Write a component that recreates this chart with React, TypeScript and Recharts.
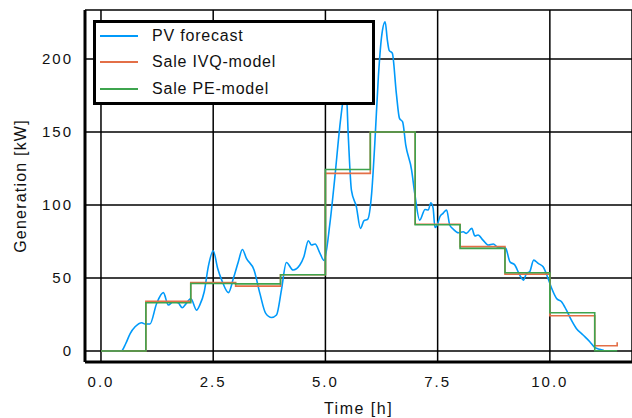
import React from "react";
import {
  LineChart,
  Line,
  XAxis,
  YAxis,
  CartesianGrid,
  Legend,
} from "recharts";

// PV forecast trace (hours, kW)
const PV_HOURS = [
  0, 0.45, 0.55, 0.65, 0.76, 0.91, 0.98, 1.09, 1.24, 1.39, 1.5, 1.61, 1.72, 1.81, 1.91, 2.0,
  2.13, 2.2, 2.3, 2.39, 2.5, 2.6, 2.69, 2.84, 2.95, 3.06, 3.15, 3.24, 3.41, 3.54, 3.67, 3.8,
  3.91, 4.02, 4.13, 4.28, 4.43, 4.52, 4.62, 4.69, 4.77, 4.88, 4.97, 5.1, 5.21, 5.32, 5.41,
  5.46, 5.51, 5.58, 5.69, 5.78, 5.86, 5.94, 6.03, 6.1, 6.18, 6.25, 6.33, 6.38, 6.42, 6.49,
  6.58, 6.65, 6.72, 6.79, 6.92, 6.99, 7.1, 7.22, 7.29, 7.35, 7.4, 7.44, 7.49, 7.55, 7.62,
  7.7, 7.77, 7.85, 7.96, 8.07, 8.14, 8.26, 8.33, 8.4, 8.51, 8.63, 8.74, 8.85, 8.96, 9.02,
  9.11, 9.22, 9.33, 9.41, 9.48, 9.55, 9.64, 9.74, 9.85, 9.96, 10.04, 10.15, 10.26, 10.37,
  10.48, 10.59, 10.74, 10.89, 11.0, 11.11, 11.2,
];
const PV_VALUES = [
  0, 0, 5, 12, 16.6, 19.4, 18.5, 18.5, 32.6, 40, 31.5, 33.8, 33, 29.7, 33, 36,
  28, 31.5, 40.6, 57.7, 68.7, 56.6, 48.6, 40, 49.8, 61.2, 69.6, 63.5, 55.5, 39.5, 25.8, 23,
  24.7, 41.8, 60.7, 55.5, 58.9, 64.6, 75.6, 72.6, 73.3, 66.9, 62, 87.4, 119, 153.6, 175,
  180, 146.8, 110, 98.8, 84, 89.3, 90.2, 108, 142, 188, 215, 225.5, 213, 206, 204,
  176.5, 159.4, 157, 141, 124, 108, 89.7, 97, 96.6, 101.6, 97.7, 84.7, 86.3, 92, 94.3,
  96.6, 86.3, 83.4, 81, 81.7, 80.6, 84, 78.8, 79.5, 76, 72.6, 73.3, 71, 71.4, 70.3,
  61.2, 58.9, 52, 48.6, 53.2, 54.3, 62.3, 60, 57.7, 49.8, 43, 36, 33.8, 28,
  21.2, 15.5, 11, 6.4, 2.5, 1.2, 0.5,
];

// hourly sale schedules
const STEP_HOURS = [0, 1, 2, 3, 4, 5, 6, 7, 8, 9, 10, 11, 11.5];
const IVQ_VALUES = [0, 34, 47, 44.5, 52.3, 121.7, 150, 86.8, 71.5, 52.7, 24.2, 3.6, 6];
const PE_VALUES = [0, 33.1, 46.3, 46, 52.3, 124.4, 150, 86.5, 70.3, 53.6, 26.2, 0.2, 0.2];

const X_TICKS = [0, 2.5, 5, 7.5, 10];
const Y_TICKS = [0, 50, 100, 150, 200];

const SERIES = [
  { name: "PV forecast", color: "#009AFA" },
  { name: "Sale IVQ-model", color: "#E36F47" },
  { name: "Sale PE-model", color: "#3EA44E" },
];

const pvData = PV_HOURS.map((h, i) => ({ h, v: PV_VALUES[i] }));
const ivqData = STEP_HOURS.map((h, i) => ({ h, v: IVQ_VALUES[i] }));
const peData = STEP_HOURS.map((h, i) => ({ h, v: PE_VALUES[i] }));

const FONT = '"Liberation Sans", Arial, sans-serif';
const tickStyle = { fontSize: 15, fill: "#111", fontFamily: FONT, letterSpacing: 2 };

function LegendBox() {
  return (
    <div
      style={{
        background: "#fff",
        border: "3px solid #000",
        boxSizing: "border-box",
        width: 282,
        height: 85,
        padding: "0 0 0 4px",
        fontFamily: FONT,
        fontSize: 16,
        letterSpacing: 0.8,
        color: "#111",
      }}
    >
      {SERIES.map((s) => (
        <div key={s.name} style={{ display: "flex", alignItems: "center", height: 26.3 }}>
          <span style={{ width: 38, height: 2, background: s.color, marginRight: 14 }} />
          <span>{s.name}</span>
        </div>
      ))}
    </div>
  );
}

function YLabel(props: any) {
  const { viewBox } = props;
  const cy = viewBox.y + viewBox.height / 2;
  return (
    <text
      x={20}
      y={cy}
      transform={`rotate(-90, 20, ${cy})`}
      textAnchor="middle"
      dominantBaseline="central"
      style={{ fontSize: 16, fill: "#111", fontFamily: FONT, letterSpacing: 1.2 }}
    >
      Generation [kW]
    </text>
  );
}

export default function App() {
  return (
    <div style={{ position: "absolute", left: 0, top: 0, background: "#fff" }}>
      <LineChart width={632} height={418} margin={{ top: 10, right: 0, bottom: 0, left: 0 }}>
        <CartesianGrid stroke="#000" strokeWidth={1.5} />
        <XAxis
          type="number"
          dataKey="h"
          domain={[-0.356, 11.83]}
          allowDataOverflow
          ticks={X_TICKS}
          tickFormatter={(v: number) => v.toFixed(1)}
          height={56}
          tickLine={false}
          tickMargin={8}
          axisLine={{ stroke: "#000", strokeWidth: 3 }}
          tick={tickStyle}
          label={{
            value: "Time [h]",
            position: "insideBottom",
            offset: 4,
            style: { fontSize: 16, fill: "#111", fontFamily: FONT, letterSpacing: 1.5 },
          }}
        />
        <YAxis
          type="number"
          domain={[-7.5, 233.6]}
          allowDataOverflow
          ticks={Y_TICKS}
          width={85}
          tickLine={false}
          tickMargin={6}
          axisLine={{ stroke: "#000", strokeWidth: 3 }}
          tick={tickStyle}
          label={<YLabel />}
        />
        <Line
          data={pvData}
          dataKey="v"
          name={SERIES[0].name}
          type="monotone"
          stroke={SERIES[0].color}
          strokeWidth={1.6}
          dot={false}
          isAnimationActive={false}
        />
        <Line
          data={ivqData}
          dataKey="v"
          name={SERIES[1].name}
          type="stepAfter"
          stroke={SERIES[1].color}
          strokeWidth={1.6}
          dot={false}
          isAnimationActive={false}
        />
        <Line
          data={peData}
          dataKey="v"
          name={SERIES[2].name}
          type="stepAfter"
          stroke={SERIES[2].color}
          strokeWidth={1.6}
          dot={false}
          isAnimationActive={false}
        />
        <Legend
          layout="vertical"
          align="center"
          verticalAlign="middle"
          content={() => <LegendBox />}
          wrapperStyle={{ left: 93, top: 20, width: 282, height: 85 }}
        />
      </LineChart>
    </div>
  );
}
